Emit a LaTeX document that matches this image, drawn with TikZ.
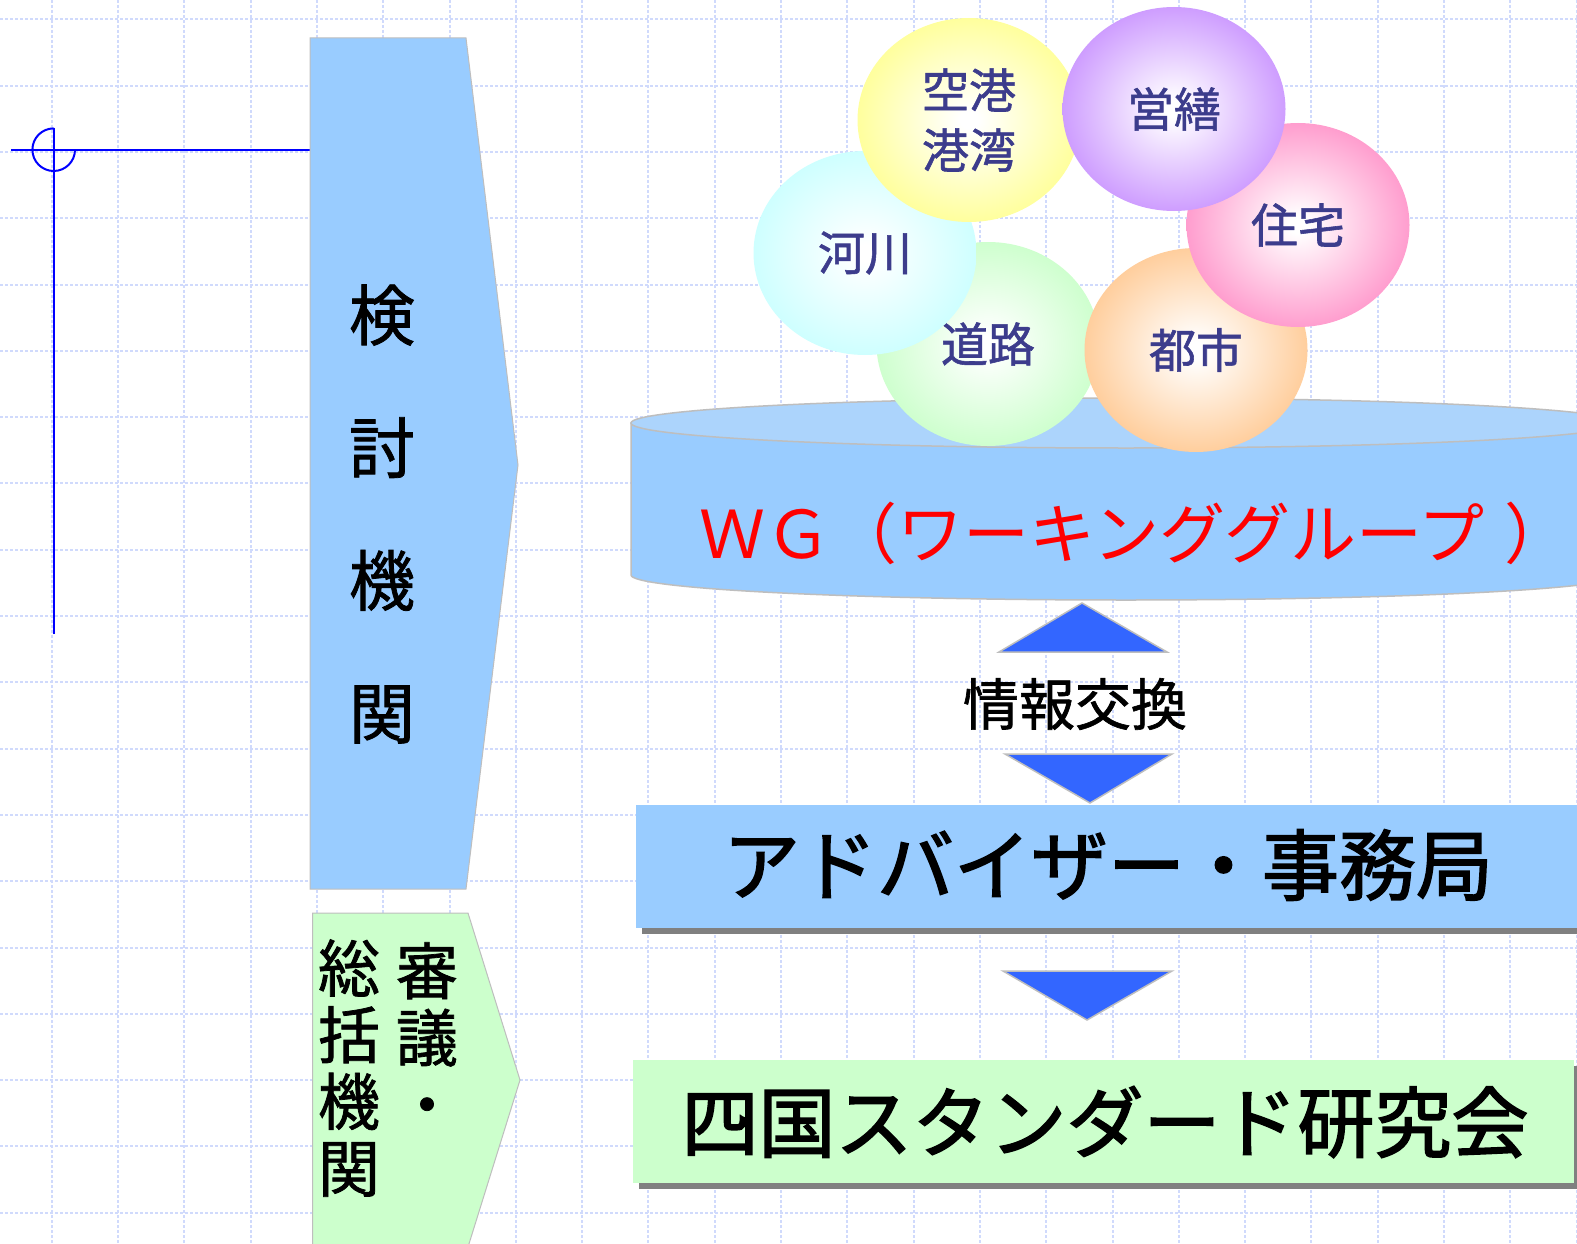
\documentclass[tikz,border=0pt]{standalone}
\usepackage{fontspec}
\setmainfont{Noto Sans CJK JP}
\newfontfamily\semibold[FakeBold=1.2]{Noto Sans CJK JP}
\newfontfamily\heavy[FakeBold=2]{Noto Sans CJK JP}
\usetikzlibrary{shapes.geometric}
\definecolor{gridc}{RGB}{208,218,252}
\definecolor{lblue}{RGB}{153,204,255}
\definecolor{cyltop}{RGB}{172,212,252}
\definecolor{lgreen}{RGB}{204,255,204}
\definecolor{edgegray}{RGB}{190,190,190}
\definecolor{arrowblue}{RGB}{51,102,255}
\definecolor{shadowgray}{RGB}{128,128,128}
\definecolor{bubtxt}{RGB}{60,60,140}
\definecolor{bYellow}{RGB}{255,255,153}
\definecolor{bPurple}{RGB}{204,153,255}
\definecolor{bPink}{RGB}{255,153,204}
\definecolor{bCyan}{RGB}{204,255,255}
\definecolor{bGreen}{RGB}{204,255,204}
\definecolor{bOrange}{RGB}{255,204,153}
\makeatletter
\pgfdeclareradialshading[tikz@radial@inner,tikz@radial@outer]{softbubble}{\pgfpointorigin}{color(0bp)=(tikz@radial@inner); color(2bp)=(tikz@radial@inner); color(26bp)=(tikz@radial@outer); color(50bp)=(tikz@radial@outer)}
\makeatother
\tikzset{
  gridline/.style={draw=gridc, line width=2pt, dash pattern=on 3pt off 2pt},
  markline/.style={draw=blue, line width=2pt},
  panel/.style={draw=edgegray, line width=1pt},
  bubble/.style={ellipse, minimum width=223pt, minimum height=204pt, inner sep=0pt,
     text=bubtxt, font=\semibold\fontsize{47}{60}\selectfont, align=center},
  tri/.style={fill=arrowblue, draw=edgegray, line width=1.5pt},
  bigtext/.style={font=\heavy\fontsize{77}{80}\selectfont, text=black, inner sep=0pt},
  sidetext/.style={align=center, inner sep=0pt, text=black},
}
\begin{document}
\begin{tikzpicture}[x=1pt,y=-1pt]
\useasboundingbox (0,0) rectangle (1577,1244);
\fill[white] (0,0) rectangle (1577,1244);
% grid
\foreach \i in {0,...,23} \draw[gridline] ({51.7+66.3*\i},0) -- ({51.7+66.3*\i},1244);
\foreach \j in {0,...,18} \draw[gridline] (0,{19.3+66.3*\j}) -- (1577,{19.3+66.3*\j});
% registration mark
\draw[markline] (11,149.7) -- (310,149.7);
\draw[markline] (53.7,127.7) -- (53.7,634);
\draw[markline] (53.7,128.4) arc[start angle=90, end angle=360, radius=21.3pt];
% left pentagons
\path[panel, fill=lblue] (310,38) -- (466,38) -- (518,465) -- (466,889) -- (310,889) -- cycle;
\node[sidetext, font=\semibold\fontsize{66}{132.7}\selectfont] (kentou) at (382,514) {検\\討\\機\\関};
\path[panel, fill=lgreen] (312.7,913) -- (468,913) -- (520,1080) -- (468,1247) -- (312.7,1247) -- cycle;
\node[sidetext, font=\semibold\fontsize{62}{66.7}\selectfont] (soukatsu) at (349,1068) {総\\括\\機\\関};
\node[sidetext, font=\semibold\fontsize{62}{66.7}\selectfont] (shingi) at (427,1035) {審\\議\\・};
% cylinder
\path[fill=lblue, draw=edgegray, line width=1.5pt] (631,423) -- (631,575)
  arc[start angle=180, end angle=360, x radius=495pt, y radius=25pt] -- (1621,423) -- cycle;
\path[fill=cyltop, draw=edgegray, line width=1.5pt] (1126,423) ellipse [x radius=495pt, y radius=25pt];
\node[font=\fontsize{66}{70}\selectfont, text=red, inner sep=0pt] (wg) at (1135,533) {ＷＧ（ワーキンググループ\kern20pt ）};
% bubbles
\node[bubble, inner color=white, outer color=bGreen, shading=softbubble] (douro) at (988,344) {道路};
\node[bubble, inner color=white, outer color=bCyan, shading=softbubble] (kasen) at (865,253) {河川};
\node[bubble, inner color=white, outer color=bYellow, shading=softbubble] (kuukou) at (969,120) {空港\\港湾};
\node[bubble, inner color=white, outer color=bOrange, shading=softbubble] (toshi) at (1196,350) {都市};
\node[bubble, inner color=white, outer color=bPink, shading=softbubble] (juutaku) at (1298,225) {住宅};
\node[bubble, inner color=white, outer color=bPurple, shading=softbubble] (eizen) at (1174,109) {営繕};
% exchange arrows
\path[tri] (999,652) -- (1082,603) -- (1167,652) -- cycle;
\node[sidetext, font=\semibold\fontsize{56}{60}\selectfont] (jouhou) at (1075,704) {情報交換};
\path[tri] (1005,754) -- (1172,754) -- (1090,803) -- cycle;
% adviser box
\fill[shadowgray] (642,811) rectangle (1600,934);
\fill[lblue] (636,805) rectangle (1600,928);
\node[bigtext] (advisor) at (1108,865) {アドバイザー・事務局};
% arrow down
\path[tri] (1003,971) -- (1172,971) -- (1087,1020) -- cycle;
% study group box
\fill[shadowgray] (639,1066) rectangle (1580,1189);
\fill[lgreen] (633,1060) rectangle (1574,1183);
\node[bigtext] (kenkyukai) at (1105,1122) {四国スタンダード研究会};
\end{tikzpicture}
\end{document}
